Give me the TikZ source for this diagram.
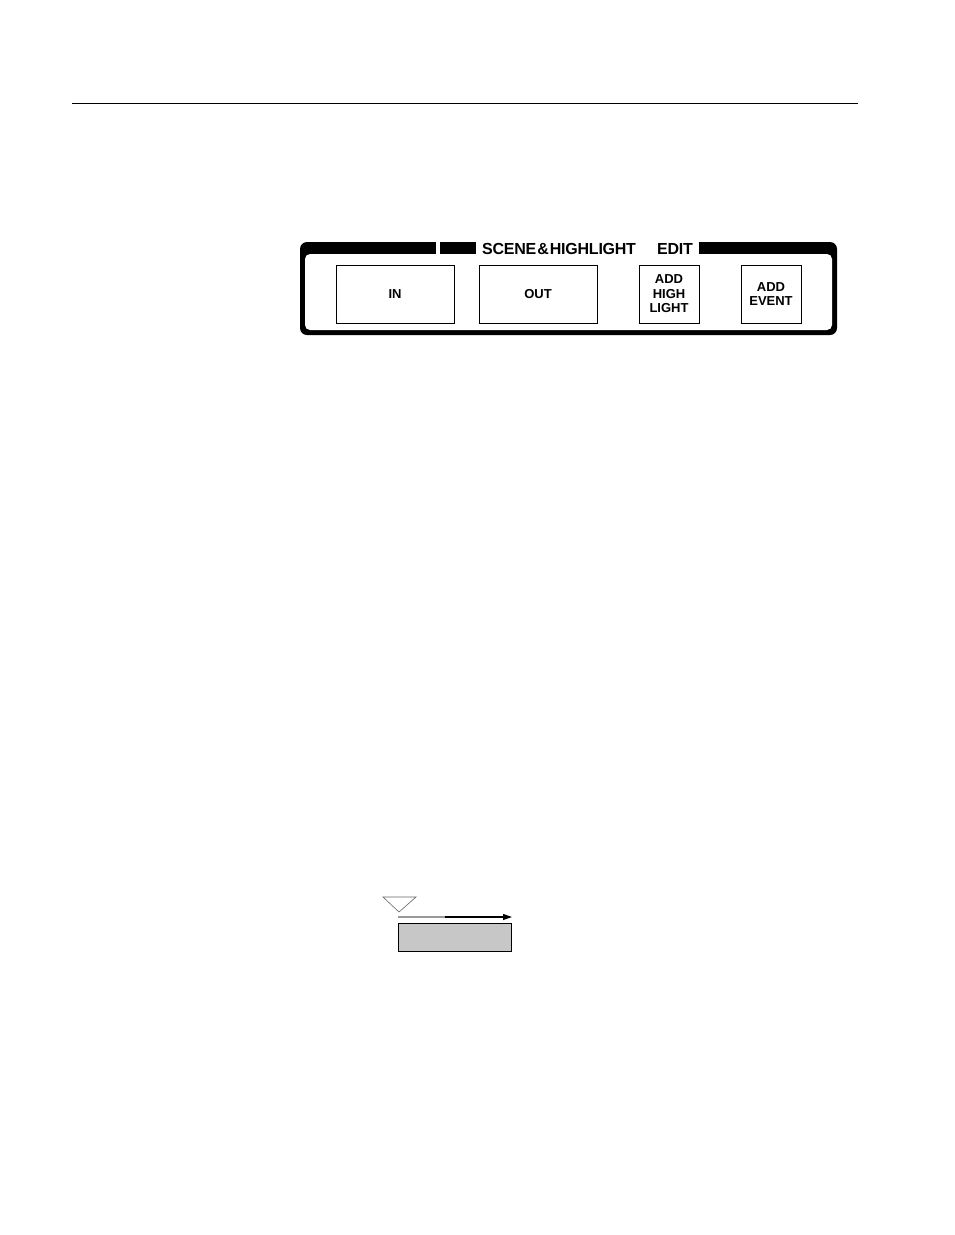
\documentclass[tikz,border=0pt]{standalone}
\usepackage{fontspec}
\setmainfont{Liberation Sans}
\usetikzlibrary{arrows.meta}
\begin{document}
\begin{tikzpicture}[x=1pt,y=-1pt,
  btn/.style={draw=black,line width=0.8pt,fill=white,inner sep=0pt,font=\bfseries\fontsize{13}{14.5}\selectfont,align=center},
  ttl/.style={font=\bfseries\fontsize{16}{17}\selectfont,inner sep=0pt,anchor=base west}]
\useasboundingbox[fill=white] (0,0) rectangle (954,1235);
% top rule
\coordinate (r1) at (72,103);
\coordinate (r2) at (858,103);
\draw[line width=0.9pt] (r1) -- (r2);
% panel frame
\fill[black,rounded corners=7pt] (300,242) rectangle (837,335);
\fill[white,rounded corners=5pt] (305,254) rectangle (832,330);
\fill[white] (436,241) rectangle (440,254);
\fill[white] (476,241) rectangle (699,254);
\node[ttl] (title) at (482,254) {\addfontfeature{LetterSpace=-1.5}SCENE\kern1pt\&\kern1pt HIGHLIGHT};
\node[ttl] (title2) at (657,254) {\addfontfeature{LetterSpace=-1.5}EDIT};
% buttons
\node[btn,minimum width=118pt,minimum height=58pt] (in) at (395,294) {IN};
\node[btn,minimum width=118pt,minimum height=58pt] (out) at (538,294) {OUT};
\node[btn,minimum width=60pt,minimum height=58pt] (addhl) at (669,294) {ADD\\HIGH\\LIGHT};
\node[btn,minimum width=60pt,minimum height=58pt] (addev) at (771,294) {ADD\\EVENT};
% bottom marker and bar
\coordinate (t1) at (383,897);
\coordinate (t2) at (416,897);
\coordinate (t3) at (399,912);
\draw[gray!80!black,line width=0.6pt] (t1) -- (t2) -- (t3) -- cycle;
\coordinate (a1) at (398,917);
\coordinate (am) at (445,917);
\coordinate (a2) at (512,917);
\draw[gray!80,line width=1.2pt] (a1) -- (am);
\draw[line width=1.2pt,-{Triangle[length=9pt,width=6pt]}] (am) -- (a2);
\node[draw=black,line width=0.6pt,fill=black!22,minimum width=113pt,minimum height=28pt,inner sep=0pt] (bar) at (455,937) {};
\end{tikzpicture}
\end{document}
